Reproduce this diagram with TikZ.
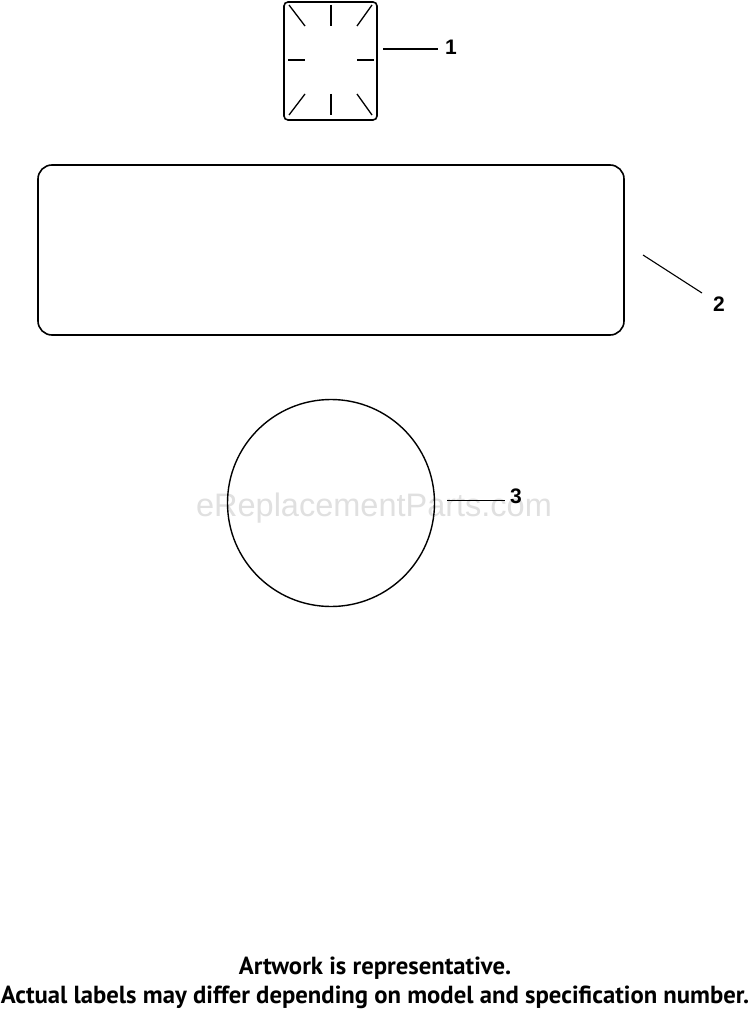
\documentclass[tikz,border=0pt]{standalone}
\usepackage{fontspec}
\setmainfont{PT Sans}
\newfontfamily\labfont{Liberation Sans}
\begin{document}
\begin{tikzpicture}[x=1pt,y=-1pt,
  part/.style={draw=black,line width=1.6pt},
  tick/.style={draw=black,line width=1.3pt},
  leader/.style={draw=black,line width=1.1pt},
  num/.style={font=\labfont\bfseries\fontsize{21}{21}\selectfont,inner sep=0pt},
  foot/.style={font=\bfseries\fontsize{24.7}{29}\selectfont,inner sep=0pt,align=center}]
\useasboundingbox[fill=white] (0,0) rectangle (750,1011);
% watermark
\node[font=\labfont\fontsize{32.5}{32.5}\selectfont,text=black!12,inner sep=0pt] (wm) at (374,508) {eReplacementParts.com};
% part 1
\draw[part,rounded corners=4pt] (284,2) rectangle (377,120);
\draw[tick] (289,5) -- (305,26);
\draw[tick] (331,5) -- (331,26);
\draw[tick] (372,5) -- (357,26);
\draw[tick] (288,60) -- (305,60);
\draw[tick] (357,60) -- (374,60);
\draw[tick] (289,115) -- (305,94);
\draw[tick] (331,94) -- (331,115);
\draw[tick] (372,115) -- (357,94);
\coordinate (l1a) at (383,49);
\coordinate (l1b) at (438,49);
\node[num] (n1) at (451,47) {1};
\draw[leader] (l1a) -- (l1b);
% part 2
\draw[part,rounded corners=14pt] (38,165) rectangle (624,335);
\coordinate (l2a) at (643,255);
\coordinate (l2b) at (702,293);
\node[num] (n2) at (719,304) {2};
\draw[leader] (l2a) -- (l2b);
% part 3
\node[draw=black,line width=1.4pt,circle,minimum size=207pt,inner sep=0pt] (c3) at (331,503) {};
\coordinate (l3a) at (447,500);
\coordinate (l3b) at (505,500);
\node[num] (n3) at (516,496) {3};
\draw[leader,line width=0.8pt] (l3a) -- (l3b);
% footer
\node[foot] (f1) at (375,968) {Artwork is representative.};
\node[foot] (f2) at (375,997) {Actual labels may differ depending on model and specification number.};
\end{tikzpicture}
\end{document}
